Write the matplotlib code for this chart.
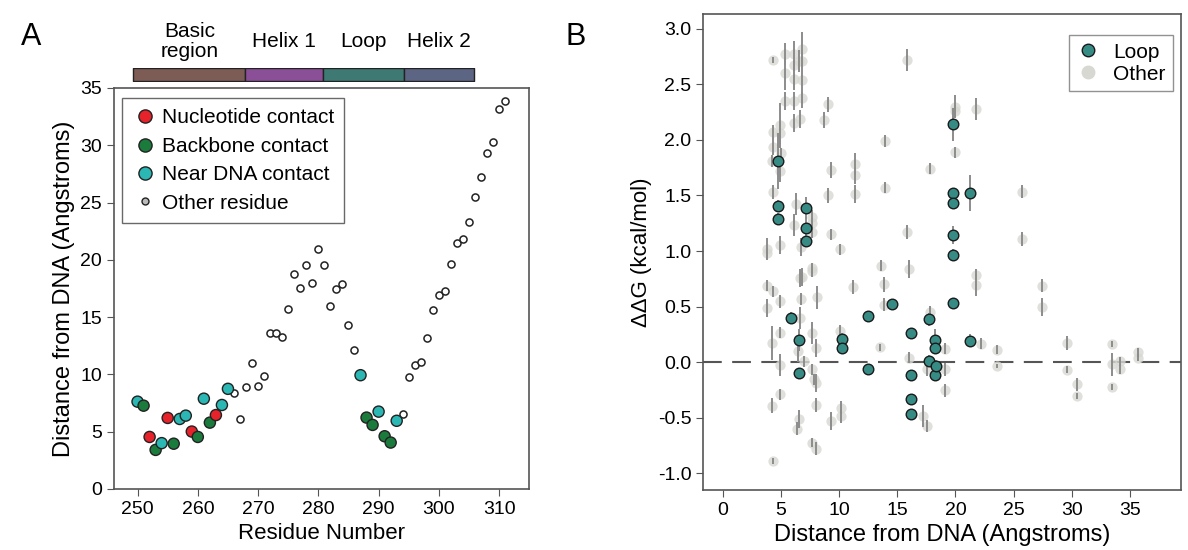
import numpy as np
import matplotlib
matplotlib.use("Agg")
import matplotlib.pyplot as plt
from matplotlib.lines import Line2D

plt.rcParams['font.family'] = ['Liberation Sans', 'DejaVu Sans']

# ---- Panel A data: distance from DNA per residue
residues = list(range(250, 312))
distance = [7.62, 7.27, 4.54, 3.41, 4.00, 6.20, 3.95, 6.11, 6.40, 5.01,
            4.54, 7.88, 5.79, 6.45, 7.33, 8.74, 8.34, 6.11, 8.86, 11.00,
            9.00, 9.88, 13.60, 13.64, 13.27, 15.73, 18.77, 17.55, 19.52, 18.01,
            20.96, 19.57, 15.96, 17.44, 17.92, 14.27, 12.16, 9.93, 6.23, 5.59,
            6.75, 4.60, 4.05, 5.95, 6.50, 9.73, 10.86, 11.09, 13.18, 15.61,
            16.91, 17.26, 19.66, 21.49, 21.80, 23.31, 25.48, 27.25, 29.34, 30.29,
            33.19, 33.88]
# n = nucleotide, b = backbone, d = near DNA, o = other
contact = list("dbnbdnbddnbdbndd" + "o" * 21 + "dbbdbbd" + "o" * 18)

domain_names = ["Basic\nregion", "Helix 1", "Loop", "Helix 2"]
domain_edges = [249.3, 267.9, 280.8, 294.2, 305.8]
domain_colors = ["#7d5c55", "#8b4f98", "#3e7a73", "#5d6585"]

# ---- Panel B data: ddG vs distance
loop_x = [4.76, 4.76, 4.76, 7.11, 7.11, 7.11, 5.88, 6.54, 6.54, 10.27, 10.27, 12.5, 12.5,
          14.57, 16.22, 16.22, 16.22, 16.22, 17.71, 17.71, 18.2, 18.2, 18.2, 18.3,
          19.81, 19.81, 19.81, 19.81, 19.81, 19.81, 21.24, 21.24]
loop_y = [1.81, 1.405, 1.29, 1.39, 1.21, 1.09, 0.40, 0.20, -0.10, 0.21, 0.126, 0.42, -0.06,
          0.526, 0.26, -0.113, -0.335, -0.463, 0.386, 0.015, 0.20, 0.126, -0.113, -0.03,
          2.14, 1.52, 1.43, 1.145, 0.966, 0.53, 1.52, 0.195]
loop_err = [0.25, 0.05, 0.05, 0.10, 0.10, 0.05, 0.05, 0.10, 0.05, 0.05, 0.05, 0.03, 0.03,
            0.03, 0.05, 0.03, 0.03, 0.03, 0.06, 0.05, 0.10, 0.05, 0.03, 0.05,
            0.15, 0.05, 0.05, 0.08, 0.05, 0.05, 0.16, 0.06]

other_x = [4.33, 5.31, 5.31, 5.31, 6.1, 6.1, 6.1, 6.1, 6.1, 6.54, 6.6,
           6.83, 6.83, 6.83, 6.83, 9.06, 8.69, 4.88, 4.88, 4.33, 4.33, 4.96, 4.21, 4.88,
           9.32, 11.35, 11.35, 4.33, 9.06, 11.35, 6.25,
           6.1, 7.69, 7.69, 7.69, 9.32, 3.76, 3.76, 4.88, 6.68, 10.06,
           7.63, 7.69, 6.6, 6.83, 3.76, 4.33, 4.88, 6.68, 8.12, 11.18,
           3.76, 6.6, 4.88, 4.25, 6.45, 7.69, 7.97, 10.06,
           6.97, 4.88, 7.69, 7.82, 7.97, 4.88, 4.25, 7.97, 10.12, 10.12, 9.26, 6.54,
           6.4, 7.69, 7.97, 4.33,
           15.85, 19.92, 19.92, 21.73, 13.93, 19.92, 17.8, 13.93, 15.85, 13.56, 15.99,
           13.84, 21.73, 21.73, 13.84, 17.8, 13.47, 15.99, 19.06, 22.16, 17.52, 19.06,
           19.06, 17.2, 17.52,
           25.74, 25.74, 27.46, 27.46, 23.53, 23.53, 29.55, 29.55, 30.47, 30.47,
           33.42, 33.42, 33.42, 34.14, 34.14, 35.68, 35.68]
other_y = [2.72, 2.77, 2.60, 2.35, 2.77, 2.67, 2.55, 2.35, 2.15, 2.71, 2.19,
           2.82, 2.71, 2.54, 2.38, 2.32, 2.18, 2.13, 2.06, 2.07, 1.94, 1.88, 1.81, 1.72,
           1.73, 1.78, 1.68, 1.53, 1.50, 1.51, 1.42,
           1.235, 1.31, 1.25, 1.175, 1.15, 1.017, 0.98, 1.055, 1.035, 1.017,
           0.847, 0.82, 0.757, 0.77, 0.688, 0.637, 0.547, 0.569, 0.583, 0.676,
           0.488, 0.398, 0.264, 0.174, 0.099, 0.264, 0.129, 0.278,
           0.009, -0.027, -0.065, -0.155, -0.185, -0.29, -0.39, -0.386, -0.41, -0.484, -0.53, -0.514,
           -0.597, -0.723, -0.777, -0.888,
           2.72, 2.30, 2.26, 2.275, 1.99, 1.89, 1.74, 1.57, 1.17, 0.87, 0.84,
           0.70, 0.787, 0.697, 0.517, 0.452, 0.135, 0.04, 0.123, 0.165, -0.065, -0.065,
           -0.254, -0.484, -0.574,
           1.534, 1.11, 0.69, 0.50, 0.114, -0.036, 0.174, -0.066, -0.20, -0.305,
           0.165, -0.02, -0.224, 0.009, -0.065, 0.09, 0.04]
other_err = [0.03, 0.10, 0.15, 0.08, 0.12, 0.05, 0.10, 0.08, 0.08, 0.10, 0.08,
             0.15, 0.05, 0.25, 0.05, 0.07, 0.07, 0.20, 0.10, 0.06, 0.08, 0.05, 0.05, 0.10,
             0.07, 0.10, 0.08, 0.06, 0.07, 0.08, 0.10,
             0.10, 0.06, 0.06, 0.06, 0.05, 0.10, 0.05, 0.08, 0.08, 0.05,
             0.05, 0.05, 0.08, 0.08, 0.05, 0.05, 0.06, 0.05, 0.10, 0.06,
             0.08, 0.10, 0.05, 0.15, 0.10, 0.10, 0.08, 0.06,
             0.05, 0.10, 0.05, 0.05, 0.08, 0.05, 0.07, 0.06, 0.06, 0.06, 0.08, 0.08,
             0.06, 0.04, 0.06, 0.03,
             0.10, 0.10, 0.05, 0.10, 0.05, 0.05, 0.05, 0.05, 0.06, 0.05, 0.08,
             0.07, 0.05, 0.10, 0.06, 0.05, 0.03, 0.05, 0.05, 0.05, 0.06, 0.06,
             0.06, 0.10, 0.05,
             0.06, 0.06, 0.06, 0.08, 0.04, 0.02, 0.06, 0.03, 0.06, 0.03,
             0.03, 0.10, 0.03, 0.04, 0.04, 0.04, 0.03]

# colours
ccol = {"n": "#e6232b", "b": "#1b7b3c", "d": "#2bb7b4"}
teal = "#368c85"
grey = "#d8d8d3"
spine_col = "#555555"

fig = plt.figure(figsize=(11.88, 5.5), dpi=100)

# ---------------- Panel A
axA = fig.add_axes([0.096, 0.111, 0.349, 0.729])
res = np.array(residues)
dist = np.array(distance)
con = np.array(contact)
isc = con != "o"
axA.scatter(res[~isc], dist[~isc], s=26, facecolor="white", edgecolor="#222222", linewidth=1.1, zorder=2)
axA.scatter(res[isc], dist[isc], s=64, c=[ccol[k] for k in con[isc]], edgecolor="#222222",
            linewidth=1.0, zorder=3)
axA.set_xlim(246.1, 314.9)
axA.set_ylim(0, 35)
axA.set_xticks(range(250, 311, 10))
axA.set_yticks(range(0, 36, 5))
axA.set_xlabel("Residue Number", fontsize=16)
axA.set_ylabel("Distance from DNA (Angstroms)", fontsize=17)
axA.tick_params(labelsize=14, length=5, color=spine_col)
for s in axA.spines.values():
    s.set_color(spine_col)
    s.set_linewidth(1.2)

hA = [Line2D([], [], marker="o", ls="", markersize=9.5, markerfacecolor=ccol["n"], markeredgecolor="#222222"),
      Line2D([], [], marker="o", ls="", markersize=9.5, markerfacecolor=ccol["b"], markeredgecolor="#222222"),
      Line2D([], [], marker="o", ls="", markersize=9.5, markerfacecolor=ccol["d"], markeredgecolor="#222222"),
      Line2D([], [], marker="o", ls="", markersize=5, markerfacecolor="#bbbbbb", markeredgecolor="#222222")]
legA = axA.legend(hA, ["Nucleotide contact", "Backbone contact", "Near DNA contact", "Other residue"],
                  loc="upper left", bbox_to_anchor=(0.019, 0.975), borderaxespad=0,
                  fontsize=15, frameon=True, fancybox=False, edgecolor="#444444",
                  handletextpad=0.2, labelspacing=0.45, handlelength=1.2, borderpad=0.5)
legA.get_frame().set_linewidth(1.0)

# domain bar
axD = fig.add_axes([0.096, 0.853, 0.349, 0.024])
for i in range(len(domain_names)):
    axD.broken_barh([(domain_edges[i], domain_edges[i + 1] - domain_edges[i])], (0, 1),
                    facecolor=domain_colors[i], edgecolor="#222222", linewidth=1.0)
    axD.text((domain_edges[i] + domain_edges[i + 1]) / 2, 3.0, domain_names[i], ha="center",
             va="center", fontsize=15, linespacing=1.05)
axD.set_xlim(246.1, 314.9)
axD.set_ylim(0, 1)
axD.axis("off")

# ---------------- Panel B
axB = fig.add_axes([0.5918, 0.109, 0.4024, 0.865])
axB.axhline(0, color="#555555", lw=1.5, dashes=(9, 5), zorder=1)
axB.errorbar(other_x, other_y, yerr=other_err, fmt="none", ecolor="#8c8c8c", elinewidth=1.4, zorder=3)
axB.scatter(other_x, other_y, s=55, color=grey, alpha=0.8, linewidth=0, zorder=2)
axB.errorbar(loop_x, loop_y, yerr=loop_err, fmt="none", ecolor="#8c8c8c", elinewidth=1.4, zorder=4)
axB.scatter(loop_x, loop_y, s=58, color=teal, edgecolor="#1a1a1a", linewidth=1.0, zorder=5)
axB.set_xlim(-1.7, 39.4)
axB.set_ylim(-1.15, 3.13)
axB.set_xticks(range(0, 36, 5))
axB.set_yticks(np.arange(-1.0, 3.01, 0.5))
axB.set_yticklabels(["%.1f" % v for v in np.arange(-1.0, 3.01, 0.5)])
axB.set_xlabel("Distance from DNA (Angstroms)", fontsize=17)
axB.set_ylabel("ΔΔG (kcal/mol)", fontsize=16)
axB.tick_params(labelsize=14, length=5, color=spine_col)
for s in axB.spines.values():
    s.set_color(spine_col)
    s.set_linewidth(1.2)

hB = [Line2D([], [], marker="o", ls="", markersize=9, markerfacecolor=teal, markeredgecolor="#1a1a1a"),
      Line2D([], [], marker="o", ls="", markersize=9, markerfacecolor=grey, markeredgecolor=grey)]
legB = axB.legend(hB, ["Loop", "Other"], loc="upper right", bbox_to_anchor=(0.983, 0.956),
                  borderaxespad=0, fontsize=15, frameon=True, fancybox=False,
                  edgecolor="#777777", handletextpad=0.6, labelspacing=0.15,
                  handlelength=1.2, borderpad=0.35)
legB.get_frame().set_linewidth(1.0)

fig.text(0.018, 0.918, "A", fontsize=22)
fig.text(0.476, 0.918, "B", fontsize=22)

fig.savefig("out.png", dpi=100)
